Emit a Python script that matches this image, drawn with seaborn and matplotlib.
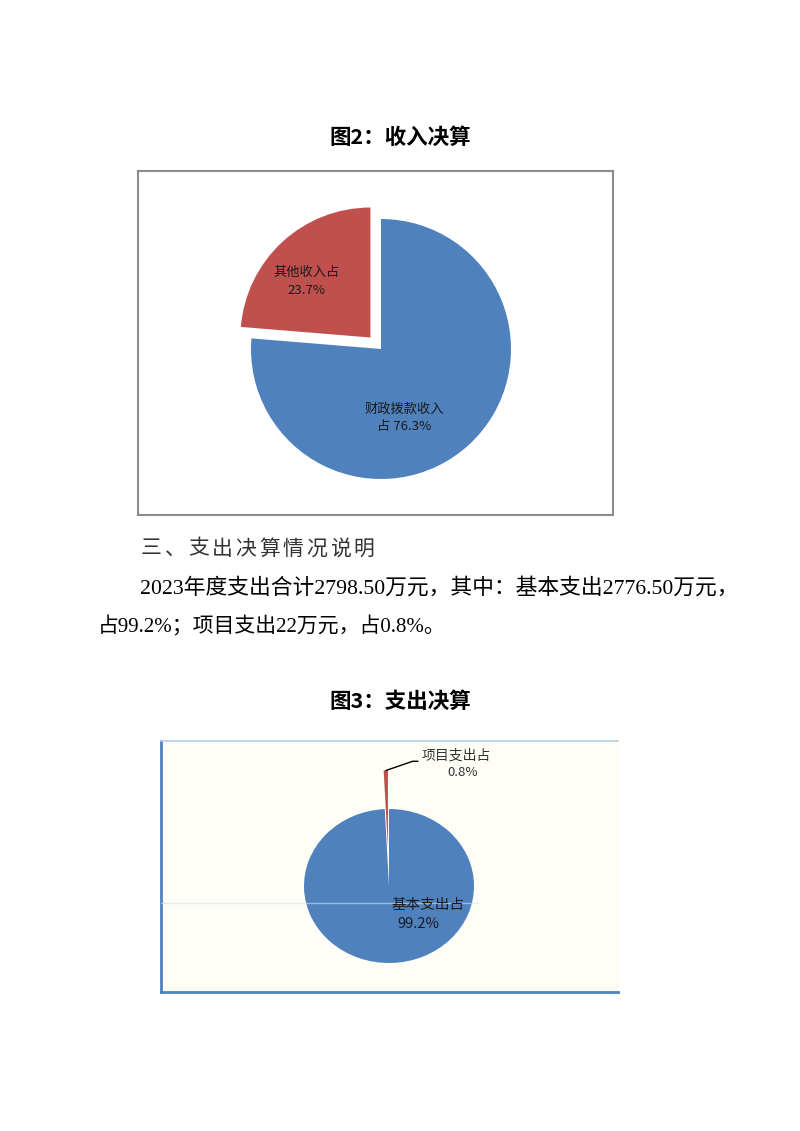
import numpy as np
import matplotlib
matplotlib.use("Agg")
import matplotlib.pyplot as plt
import seaborn as sns

# chart data
income_labels = ["财政拨款收入", "其他收入"]
income_shares = [76.3, 23.7]
expense_labels = ["基本支出", "项目支出"]
expense_shares = [99.2, 0.8]

title_income = "图2：收入决算"
title_expense = "图3：支出决算"
body_lines = [
    "三、支出决算情况说明",
    "2023年度支出合计2798.50万元，其中：基本支出2776.50万元，",
    "占99.2%；项目支出22万元，占0.8%。",
]

sns.set_theme(style="white")
plt.rcParams["font.family"] = ["Noto Sans CJK SC", "DejaVu Sans"]
palette = sns.color_palette(["#4F81BD", "#C0504D"])

W, H = 800, 1131


def box(l, t, r, b):
    return [l / W, 1 - b / H, (r - l) / W, (b - t) / H]


def fy(y):
    return 1 - y / H


fig = plt.figure(figsize=(8, 11.31), dpi=100)
fig.patch.set_facecolor("white")

serif = ["Liberation Serif", "Noto Sans CJK SC"]
fig.text(0.5, fy(137), title_income, ha="center", va="center",
         fontsize=15.5, fontweight="heavy", color="black")

# heading line is set with wide character spacing
for i, ch in enumerate(body_lines[0]):
    fig.text((140 + 11.5 + i * 23.6) / W, fy(550), ch, ha="center",
             va="center", fontsize=15, family=serif, fontweight="light",
             color="#333333")
fig.text(140 / W, fy(588), body_lines[1], ha="left", va="center",
         fontsize=15.7, family=serif, fontweight="light", color="black")
fig.text(98 / W, fy(627), body_lines[2], ha="left", va="center",
         fontsize=15, family=serif, fontweight="light", color="black")
fig.text(0.5, fy(701), title_expense, ha="center", va="center",
         fontsize=15.5, fontweight="heavy", color="black")

# ---- chart 1: income ----
frame1 = fig.add_axes(box(138, 171, 613, 515))
frame1.set_xticks([])
frame1.set_yticks([])
frame1.set_facecolor("white")
for side in frame1.spines.values():
    side.set_visible(True)
    side.set_color("#8c8c8c")
    side.set_linewidth(1.5)

ax1 = fig.add_axes(box(251, 219, 511, 479))
wedges1, _ = ax1.pie(income_shares, colors=palette, startangle=90,
                     counterclock=False, explode=[0, 0.12],
                     wedgeprops=dict(linewidth=0))
for w in wedges1:
    w.set_clip_on(False)
ax1.set_xlim(-1, 1)
ax1.set_ylim(-1, 1)
ax1.set_aspect("auto")
ax1.axis("off")

lab_kw = dict(ha="center", va="center", fontsize=9.5, color="#1a1a1a",
              linespacing=1.45, fontweight="light")
ax1.text(-0.57, 0.52, f"{income_labels[1]}占\n{income_shares[1]}%", **lab_kw)
ax1.text(0.18, -0.53, f"{income_labels[0]}\n占 {income_shares[0]}%", **lab_kw)

# ---- chart 2: expense ----
frame2 = fig.add_axes(box(161, 741, 618, 992))
frame2.set_xticks([])
frame2.set_yticks([])
frame2.set_facecolor("#FEFEF7")
frame2.spines["right"].set_visible(False)
frame2.spines["top"].set_color("#B8CCE4")
frame2.spines["top"].set_linewidth(1.2)
for s in ("left", "bottom"):
    frame2.spines[s].set_visible(True)
    frame2.spines[s].set_color("#4F81BD")
    frame2.spines[s].set_linewidth(2)

ax2 = fig.add_axes(box(304, 809, 474, 963))
wedges2, _ = ax2.pie(expense_shares, colors=palette, startangle=90,
                     counterclock=False, explode=[0, 0.5],
                     wedgeprops=dict(linewidth=0))
for w in wedges2:
    w.set_clip_on(False)
ax2.set_xlim(-1, 1)
ax2.set_ylim(-1, 1)
ax2.set_aspect("auto")
ax2.axis("off")

# faint horizontal rule across the plot area
ax2.axhline(-0.22, xmin=(161 - 304) / 170, xmax=(477 - 304) / 170,
            color="#d6e2f0", alpha=0.6, lw=1, clip_on=False)

# leader line from the exploded small slice
small = wedges2[1]
mid = np.deg2rad((small.theta1 + small.theta2) / 2)
cx, cy = small.center
tip = (cx + small.r * np.cos(mid), cy + small.r * np.sin(mid))
ax2.plot([tip[0], 0.28, 0.34], [tip[1], 1.62, 1.62], color="black",
         lw=1, clip_on=False)

ax2.text(0.79, 1.69, f"{expense_labels[1]}占", ha="center", va="center",
         fontsize=10, color="#333333", fontweight="light")
ax2.text(0.87, 1.47, f"{expense_shares[1]}%", ha="center", va="center",
         fontsize=9.5, color="#333333")
ax2.text(0.46, -0.25, f"{expense_labels[0]}占", ha="center", va="center",
         fontsize=10.5, color="#1a1a1a", fontweight="light")
ax2.text(0.34, -0.49, f"{expense_shares[0]}%", ha="center", va="center",
         fontsize=10.5, color="#1a1a1a")

fig.savefig("out.png", dpi=100, facecolor="white")
